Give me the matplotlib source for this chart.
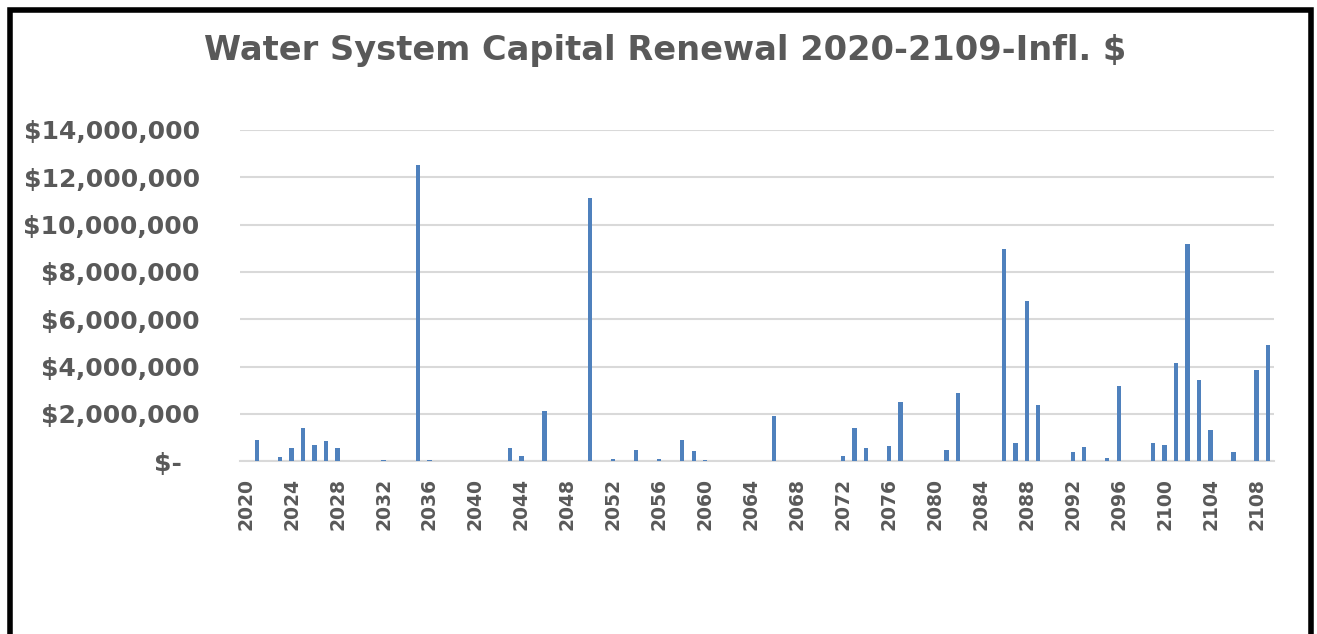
import matplotlib
matplotlib.use("Agg")
import matplotlib.pyplot as plt
import matplotlib.patches as patches
from matplotlib.ticker import FuncFormatter
import numpy as np

# years 2020..2109, values (dollars, inflated)
years = list(range(2020, 2110))
spend = {
    2021: 890000, 2023: 200000, 2024: 550000, 2025: 1410000, 2026: 690000,
    2027: 860000, 2028: 580000, 2032: 60000, 2035: 12530000, 2036: 50000,
    2043: 560000, 2044: 210000, 2046: 2130000, 2050: 11130000, 2052: 110000,
    2054: 490000, 2056: 100000, 2058: 890000, 2059: 440000, 2060: 60000,
    2066: 1900000, 2072: 230000, 2073: 1400000, 2074: 550000, 2076: 630000,
    2077: 2520000, 2081: 480000, 2082: 2880000, 2086: 8960000, 2087: 780000,
    2088: 6780000, 2089: 2360000, 2092: 410000, 2093: 610000, 2095: 150000,
    2096: 3170000, 2099: 790000, 2100: 680000, 2101: 4170000, 2102: 9170000,
    2103: 3420000, 2104: 1340000, 2106: 390000, 2108: 3850000, 2109: 4930000,
}
values = [spend.get(y, 0) for y in years]
title = "Water System Capital Renewal 2020-2109-Infl. $"

txt = "#595959"

fig = plt.figure(figsize=(13.17, 6.34), dpi=100)
ax = fig.add_axes([0.1822, 0.2724, 0.785, 0.5226])

x = np.arange(len(years))
ax.bar(x, values, width=0.38, color="#4f81bd", zorder=3)

ax.set_xlim(-0.5, len(years) - 0.5)
ax.set_ylim(0, 14e6)
ax.set_yticks(np.arange(0, 14e6 + 1, 2e6))

def money(v, pos):
    if v == 0:
        return "$-  "
    return "${:,.0f}".format(v)

ax.yaxis.set_major_formatter(FuncFormatter(money))
ax.set_xticks(x[::4])
ax.set_xticklabels([str(y) for y in years[::4]], rotation=90)

for lbl in ax.get_yticklabels():
    lbl.set_fontweight("bold")
    lbl.set_fontsize(18)
    lbl.set_color(txt)
for lbl in ax.get_xticklabels():
    lbl.set_fontweight("bold")
    lbl.set_fontsize(13.5)
    lbl.set_color(txt)

ax.tick_params(axis="both", length=0)
ax.tick_params(axis="y", pad=29)
ax.tick_params(axis="x", pad=12)
ax.grid(axis="y", color="#d9d9d9", linewidth=1.5, zorder=0)
for s in ["top", "right", "left"]:
    ax.spines[s].set_visible(False)
ax.spines["bottom"].set_color("#d9d9d9")
ax.spines["bottom"].set_linewidth(1.5)

fig.text(0.505, 0.921, title, ha="center", va="center", fontsize=24.2,
         fontweight="bold", color=txt)

# black frame around the chart
fig.patches.append(patches.Rectangle((0.0076, -0.2), 0.9882, 1.185,
                                     transform=fig.transFigure, fill=False,
                                     edgecolor="black", linewidth=4))

fig.savefig("out.png", dpi=100)
